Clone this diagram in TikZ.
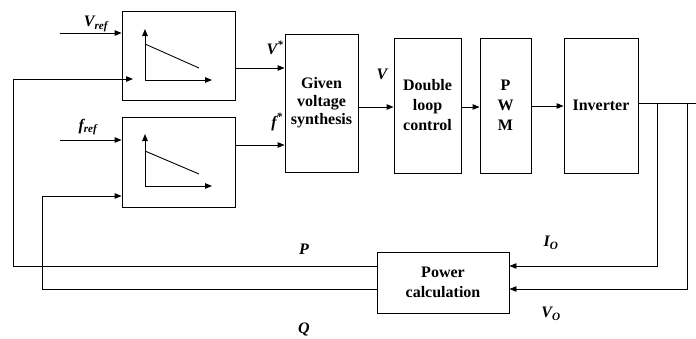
\documentclass[tikz,border=0pt]{standalone}
\usepackage{fontspec}
\setmainfont{Liberation Serif}
\usetikzlibrary{arrows.meta}
\begin{document}
\begin{tikzpicture}[x=1pt,y=-1pt,
  line width=0.9pt,
  arr/.style={-{Triangle[length=7pt,width=5.5pt]}},
  blk/.style={draw,rectangle,inner sep=0pt,align=center,font=\fontsize{16}{19}\selectfont\bfseries},
  lbl/.style={font=\fontsize{16}{19}\selectfont\bfseries\itshape,inner sep=0pt}]
\useasboundingbox (0,0) rectangle (696,338);
% blocks
\node[blk,minimum width=113pt,minimum height=89pt] (d1) at (178.5,55.5) {};
\node[blk,minimum width=113pt,minimum height=90pt] (d2) at (178.5,162) {};
\node[blk,minimum width=73pt,minimum height=138pt,font=\fontsize{16}{18}\selectfont\bfseries] (gvs) at (321.5,103) {Given\\voltage\\synthesis};
\node[blk,minimum width=67pt,minimum height=135pt,font=\fontsize{16}{20}\selectfont\bfseries] (dlc) at (427.5,105.5) {Double\\loop\\control};
\node[blk,minimum width=51pt,minimum height=135pt,font=\fontsize{16}{20}\selectfont\bfseries] (pwm) at (505.5,105.5) {P\\W\\M};
\node[blk,minimum width=74pt,minimum height=135pt] (inv) at (601,105.5) {Inverter};
\node[blk,minimum width=132pt,minimum height=61pt,font=\fontsize{16}{20}\selectfont\bfseries] (pc) at (443,282.5) {Power\\calculation};
% droop graphs
\draw[arr] (145,80) -- (145,29);
\draw[arr] (145,80) -- (212,80);
\draw (145,44) -- (199,68);
\draw[arr] (145,186) -- (145,134);
\draw[arr] (145,186) -- (212,186);
\draw (145,151) -- (199,174);
% inputs
\coordinate (vin) at (60,33);
\coordinate (fin) at (60,140);
\draw[arr] (vin) -- (d1.west |- vin);
\draw[arr] (fin) -- (d2.west |- fin);
% forward path
\draw[arr] (d1.east |- 0,68) -- (gvs.west |- 0,68);
\draw[arr] (d2.east |- 0,145) -- (gvs.west |- 0,145);
\draw[arr] (gvs.east |- 0,107) -- (dlc.west |- 0,107);
\draw[arr] (dlc.east |- 0,107) -- (pwm.west |- 0,107);
\draw[arr] (pwm.east |- 0,106) -- (inv.west |- 0,106);
\coordinate (out) at (696,103);
\draw (inv.east |- out) -- (out);
% measurements
\coordinate (ti) at (657,103);
\coordinate (tv) at (687,103);
\draw[arr] (ti) -- (657,266) -- (pc.east |- 0,266);
\draw[arr] (tv) -- (687,289) -- (pc.east |- 0,289);
% feedback
\coordinate (pin) at (133,79);
\draw[arr] (pc.west |- 0,266) -- (13,266) -- (13,79) -- (pin);
\draw[arr] (pc.west |- 0,289) -- (42,289) -- (42,196) -- (d2.west |- 0,196);
% labels
\node[lbl] (lvref) at (96,24) {V\textsubscript{ref}};
\node[lbl] (lfref) at (88,127) {f\textsubscript{ref}};
\node[lbl] (lvs) at (275,48) {V\textsuperscript{*}};
\node[lbl] (lfs) at (277,122) {f\textsuperscript{*}};
\node[lbl] (lv) at (382,74) {V};
\node[lbl] (lp) at (304,249) {P};
\node[lbl] (lq) at (304,329) {Q};
\node[lbl] (lio) at (551,243) {I\textsubscript{O}};
\node[lbl] (lvo) at (551,314) {V\textsubscript{O}};
\end{tikzpicture}
\end{document}
